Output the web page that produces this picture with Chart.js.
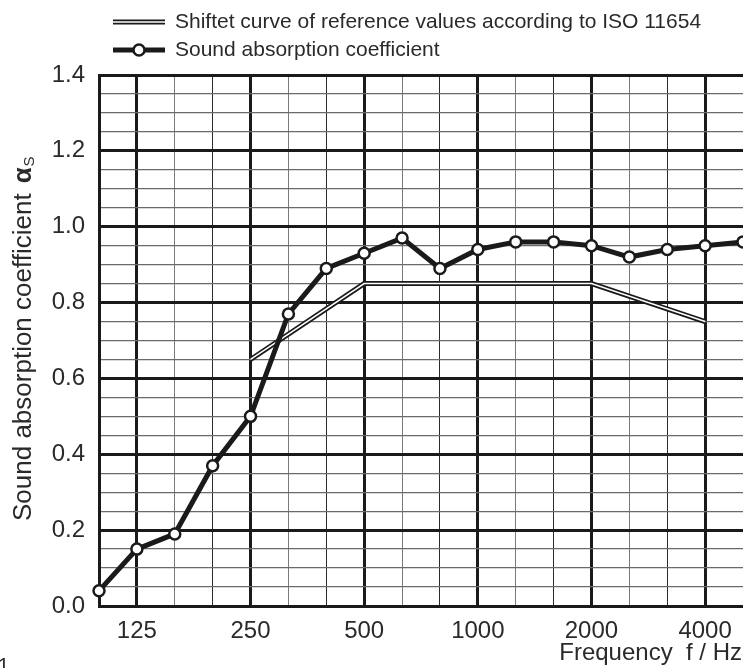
<!DOCTYPE html>
<html>
<head>
<meta charset="utf-8">
<title>Sound absorption coefficient</title>
<script src="https://cdn.jsdelivr.net/npm/chart.js@4.4.0/dist/chart.umd.min.js"></script>
<style>
  html, body { margin: 0; padding: 0; background: #fff; }
  #wrap { width: 743px; height: 668px; }
</style>
</head>
<body>
<div id="wrap"><canvas id="absorptionChart" width="743" height="668"></canvas></div>
<script>
// 1/3 octave band centre frequencies (Hz)
const bands = ["100", "125", "160", "200", "250", "315", "400", "500", "630", "800",
               "1000", "1250", "1600", "2000", "2500", "3150", "4000", "5000"];
// only octave bands get a label
const octaveLabels = ["125", "250", "500", "1000", "2000", "4000"];

// measured sound absorption coefficient alpha_s
const absorption = [0.04, 0.15, 0.19, 0.37, 0.50, 0.77, 0.89, 0.93, 0.97, 0.89,
                    0.94, 0.96, 0.96, 0.95, 0.92, 0.94, 0.95, 0.96];

// shifted ISO 11654 reference curve (only defined 250 - 4000 Hz)
const referenceCurve = [null, null, null, null, 0.65, null, null, 0.85, null, null,
                        null, null, null, 0.85, null, null, 0.75, null];

const yTicks = ["0.0", "0.2", "0.4", "0.6", "0.8", "1.0", "1.2", "1.4"];

const INK = "#1a1a1a";
const FONT = "'Liberation Sans', Arial, sans-serif";

/******************************** helpers ********************************/
function isMajorY(v) {
  const r = v / 0.2;
  return Math.abs(r - Math.round(r)) < 1e-6;
}

/******************************** legend + axis titles ********************************/
const decorPlugin = {
  id: "decor",
  afterDraw(chart) {
    const ctx = chart.ctx;
    ctx.save();
    ctx.lineCap = "butt";

    // legend row 1 : double line
    ctx.strokeStyle = INK;
    ctx.lineWidth = 5;
    ctx.beginPath(); ctx.moveTo(113, 22); ctx.lineTo(165, 22); ctx.stroke();
    ctx.strokeStyle = "#fff";
    ctx.lineWidth = 1.5;
    ctx.beginPath(); ctx.moveTo(113, 22); ctx.lineTo(165, 22); ctx.stroke();

    // legend row 2 : line with open circle
    ctx.strokeStyle = INK;
    ctx.lineWidth = 5;
    ctx.beginPath(); ctx.moveTo(113, 50); ctx.lineTo(165, 50); ctx.stroke();
    ctx.fillStyle = "#fff";
    ctx.lineWidth = 2.5;
    ctx.beginPath(); ctx.arc(139, 50, 5.5, 0, Math.PI * 2); ctx.fill(); ctx.stroke();

    ctx.fillStyle = "#2a2a2a";
    ctx.font = "21px " + FONT;
    ctx.textBaseline = "middle";
    ctx.textAlign = "left";
    ctx.fillText("Shiftet curve of reference values according to ISO 11654", 175, 22);
    ctx.fillText("Sound absorption coefficient", 175, 50);

    // x axis title
    ctx.font = "24px " + FONT;
    ctx.textAlign = "right";
    ctx.textBaseline = "alphabetic";
    ctx.fillText("Frequency  f / Hz", 742, 660);

    // y axis title, rotated
    ctx.translate(31, 521);
    ctx.rotate(-Math.PI / 2);
    ctx.textAlign = "left";
    ctx.font = "26px " + FONT;
    const main = "Sound absorption coefficient";
    ctx.fillText(main, 0, 0);
    const w = ctx.measureText(main).width;
    ctx.font = "bold 26px " + FONT;
    ctx.fillText("\u03b1", w + 10, 0);
    const wa = ctx.measureText("\u03b1").width;
    ctx.font = "15px " + FONT;
    ctx.fillText("S", w + 10 + wa + 1, 3);
    ctx.restore();

    // stray page number at the bottom left
    ctx.save();
    ctx.fillStyle = "#2a2a2a";
    ctx.font = "20px " + FONT;
    ctx.fillText("1", -2, 672);
    ctx.restore();
  },
};

/******************************** chart ********************************/
new Chart(document.getElementById("absorptionChart"), {
  type: "line",
  data: {
    labels: bands,
    datasets: [
      {
        label: "Sound absorption coefficient",
        data: absorption,
        borderColor: INK,
        borderWidth: 5,
        pointRadius: 5.5,
        pointBorderWidth: 2.5,
        pointBackgroundColor: "#fff",
        pointBorderColor: INK,
        tension: 0,
        order: 0,
        clip: false,
      },
      {
        label: "ref inner",
        data: referenceCurve,
        borderColor: "#fff",
        borderWidth: 1.5,
        pointRadius: 0,
        spanGaps: true,
        tension: 0,
        order: 1,
      },
      {
        label: "Shiftet curve of reference values according to ISO 11654",
        data: referenceCurve,
        borderColor: INK,
        borderWidth: 5,
        pointRadius: 0,
        spanGaps: true,
        tension: 0,
        order: 2,
      },
    ],
  },
  options: {
    responsive: false,
    animation: false,
    devicePixelRatio: 1,
    layout: { autoPadding: false, padding: { top: 75, left: 0, right: 0, bottom: 0 } },
    plugins: {
      legend: { display: false },
      tooltip: { enabled: false },
    },
    scales: {
      x: {
        type: "category",
        offset: false,
        afterFit: (s) => {
          s.height = 62;
          s.paddingLeft = 0;
          s.paddingRight = 0;
        },
        grid: {
          drawTicks: false,
          color: (c) => {
            const i = c.index;
            if (i % 3 === 1) return INK;
            return i % 3 === 2 ? "#7a7a7a" : "#2a2a2a";
          },
          lineWidth: (c) => (c.index % 3 === 1 ? 3 : 1),
        },
        border: { display: true, color: INK, width: 3 },
        ticks: {
          autoSkip: false,
          maxRotation: 0,
          padding: 11,
          color: "#2a2a2a",
          font: { family: FONT, size: 24 },
          callback: function (value) {
            const lbl = this.getLabelForValue(value);
            return octaveLabels.includes(lbl) ? lbl : "";
          },
        },
      },
      y: {
        min: 0,
        max: 1.4,
        afterFit: (s) => {
          s.width = 99;
          s.paddingTop = 0;
          s.paddingBottom = 0;
        },
        grid: {
          drawTicks: false,
          color: (c) => (isMajorY(c.tick.value) ? INK : "#6a6a6a"),
          lineWidth: (c) => (isMajorY(c.tick.value) ? 3 : 1.3),
        },
        border: { display: true, color: INK, width: 3 },
        ticks: {
          stepSize: 0.05,
          autoSkip: false,
          padding: 14,
          color: "#2a2a2a",
          font: { family: FONT, size: 24 },
          callback: (v) => {
            if (!isMajorY(v)) return "";
            const idx = Math.round(v / 0.2);
            return yTicks[idx];
          },
        },
      },
    },
  },
  plugins: [decorPlugin],
});
</script>
</body>
</html>
